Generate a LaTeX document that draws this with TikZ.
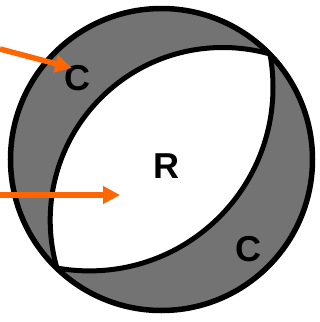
\documentclass[tikz,border=0pt]{standalone}
\usepackage{fontspec}
\setmainfont{Liberation Sans}
\usetikzlibrary{arrows.meta}
\definecolor{arrowor}{RGB}{255,102,0}
\definecolor{discgray}{gray}{0.45}
\begin{document}
\begin{tikzpicture}[x=1pt,y=-1pt,
  rim/.style={line width=5.5pt, draw=black},
  lensline/.style={line width=5pt, draw=black},
  lbl/.style={font=\fontsize{36}{36}\selectfont\bfseries, inner sep=0pt},
  pointer/.style={draw=arrowor, line width=5.5pt, -{Triangle[length=17pt,width=17pt]}, fill=arrowor}]
\useasboundingbox (0,0) rectangle (320,322);
\coordinate (O) at (161.5,159.5);
\coordinate (U) at (222.8,220.1);
\coordinate (L) at (89.4,87.3);
% grey disc
\fill[discgray] (O) circle[radius=151pt];
% white lens
\begin{scope}
  \clip (U) circle[radius=172.6pt];
  \clip (L) circle[radius=183.6pt];
  \fill[white] (O) circle[radius=151pt];
\end{scope}
% lens borders
\begin{scope}
  \clip (O) circle[radius=151pt];
  \clip (L) circle[radius=186.2pt];
  \draw[lensline] (U) circle[radius=172.6pt];
\end{scope}
\begin{scope}
  \clip (O) circle[radius=151pt];
  \clip (U) circle[radius=175.2pt];
  \draw[lensline] (L) circle[radius=183.6pt];
\end{scope}
% rim
\draw[rim] (O) circle[radius=151pt];
% labels
\node[lbl] (c1) at (77.5,78) {C};
\node[lbl] (r) at (166,166) {R};
\node[lbl] (c2) at (248.5,249) {C};
% arrows
\coordinate (s1) at (0,49);
\coordinate (t1) at (72,68);
\coordinate (s2) at (0,195);
\coordinate (t2) at (120,195);
\draw[pointer] (s1) -- (t1);
\draw[pointer] (s2) -- (t2);
\end{tikzpicture}
\end{document}
